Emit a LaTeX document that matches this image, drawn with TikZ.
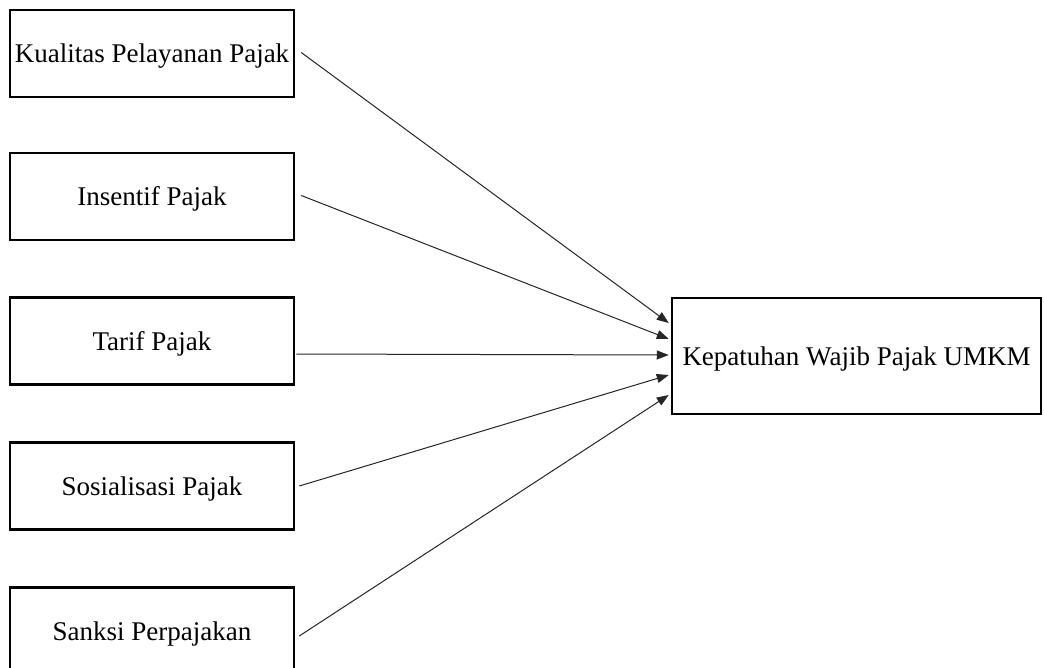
\documentclass[tikz,border=0pt]{standalone}
\usepackage{fontspec}
\setmainfont{Liberation Serif}
\usetikzlibrary{arrows.meta,calc}
\begin{document}
\begin{tikzpicture}[x=1pt,y=-1pt,
  varbox/.style={draw=black,line width=2.5pt,rectangle,inner sep=0pt,
    minimum width=284pt,minimum height=87pt,
    text height=18pt,text depth=0pt,
    font=\fontsize{27}{32}\selectfont},
  resbox/.style={varbox,minimum width=369pt,minimum height=116pt},
  link/.style={draw=black!85,line width=1pt,
    -{Triangle[length=12pt,width=9pt]}}]
  \clip (0,0) rectangle (1044,667);
  \fill[white] (0,0) rectangle (1044,667);

  % independent variables
  \node[varbox] (kp) at (152,53.5) {Kualitas Pelayanan Pajak};
  \node[varbox] (ip) at (152,196.5) {Insentif Pajak};
  \node[varbox] (tp) at (152,341) {Tarif Pajak};
  \node[varbox] (sp) at (152,486) {Sosialisasi Pajak};
  \node[varbox] (sk) at (152,631) {Sanksi Perpajakan};

  % dependent variable
  \node[resbox] (kw) at (856.5,356) {Kepatuhan Wajib Pajak UMKM};

  % arrow targets along the left side of the dependent box
  \coordinate (t1) at ($(kw.west)+(-2,-33)$);
  \coordinate (t2) at ($(kw.west)+(-2,-17)$);
  \coordinate (t3) at ($(kw.west)+(-2,-1)$);
  \coordinate (t4) at ($(kw.west)+(-2,19)$);
  \coordinate (t5) at ($(kw.west)+(-2,39)$);

  \draw[link] ($(kp.east)+(6,-1)$) -- (t1);
  \draw[link] ($(ip.east)+(6,-1)$) -- (t2);
  \draw[link] ($(tp.east)+(1,13)$) -- (t3);
  \draw[link] ($(sp.east)+(4,0)$) -- (t4);
  \draw[link] ($(sk.east)+(4,5)$) -- (t5);
\end{tikzpicture}
\end{document}
